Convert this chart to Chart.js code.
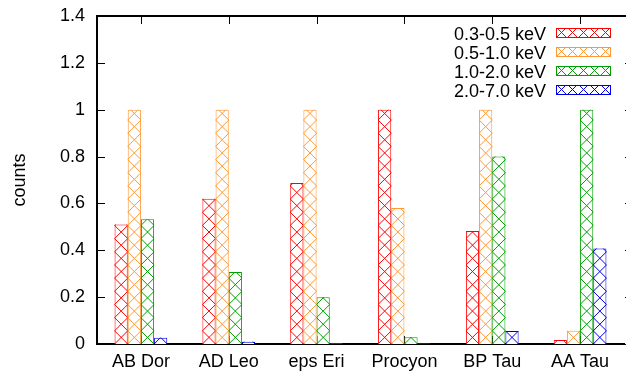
<!DOCTYPE html>
<html>
<head>
<meta charset="utf-8">
<script src="https://cdn.jsdelivr.net/npm/chart.js@4.4.1/dist/chart.umd.min.js"></script>
<style>
html, body { margin: 0; padding: 0; background: #fff; }
</style>
</head>
<body>
<canvas id="chart" width="626" height="374"></canvas>
<script>
const stars = ['AB Dor', 'AD Leo', 'eps Eri', 'Procyon', 'BP Tau', 'AA Tau'];
const bandLabels = ['0.3-0.5 keV', '0.5-1.0 keV', '1.0-2.0 keV', '2.0-7.0 keV'];
const soft = [0.51, 0.62, 0.687, 1.0, 0.482, 0.017];
const medium = [1.0, 1.0, 1.0, 0.58, 1.0, 0.057];
const hard = [0.533, 0.307, 0.2, 0.029, 0.8, 1.0];
const veryHard = [0.027, 0.01, 0.003, 0.002, 0.055, 0.408];
const yTicks = [0, 0.2, 0.4, 0.6, 0.8, 1, 1.2, 1.4];
const bandColors = ['#ff0000', '#ff9933', '#00a000', '#0000e0'];

const FONT = '"Liberation Sans", Arial, sans-serif';

// crosshatch inside a rectangle, lines at +-45 deg anchored at bottom left
function hatchRect(ctx, x0, y0, w, h, p, color) {
  if (h <= 0 || w <= 0) return;
  ctx.save();
  ctx.beginPath();
  ctx.rect(x0, y0, w, h);
  ctx.clip();
  ctx.strokeStyle = color;
  ctx.lineWidth = 1;
  ctx.beginPath();
  const yb = y0 + h;
  const n = Math.ceil((w + h) / p) + 1;
  for (let k = -n; k <= n; k++) {
    const c = x0 + k * p;
    ctx.moveTo(c, yb);
    ctx.lineTo(c + w + h, yb - w - h);
    ctx.moveTo(c, yb);
    ctx.lineTo(c - w - h, yb - w - h);
  }
  ctx.stroke();
  ctx.restore();
}

const hatchPlugin = {
  id: 'hatch',
  beforeDatasetsDraw(chart) {
    // bottom ticks (mostly hidden by bars)
    const ctx = chart.ctx, area = chart.chartArea, xs = chart.scales.x;
    ctx.save();
    ctx.strokeStyle = '#000';
    ctx.lineWidth = 1;
    ctx.beginPath();
    stars.forEach((s, i) => {
      const x = Math.round(xs.getPixelForValue(i)) + 0.5;
      ctx.moveTo(x, area.bottom);
      ctx.lineTo(x, area.bottom - 8);
    });
    ctx.stroke();
    ctx.restore();
  },
  afterDatasetsDraw(chart) {
    const ctx = chart.ctx;
    chart.data.datasets.forEach((ds, i) => {
      chart.getDatasetMeta(i).data.forEach(bar => {
        const p = bar.getProps(['x', 'y', 'base', 'width'], true);
        const x0 = p.x - p.width / 2;
        hatchRect(ctx, x0, p.y, p.width, p.base - p.y, p.width, ds.borderColor);
      });
    });

    // frame: top border, top ticks, inner y ticks
    const area = chart.chartArea, xs = chart.scales.x, ys = chart.scales.y;
    ctx.save();
    ctx.strokeStyle = '#000';
    ctx.lineWidth = 2;
    ctx.beginPath();
    ctx.moveTo(area.left, area.top);
    ctx.lineTo(chart.width, area.top);
    ctx.stroke();
    ctx.lineWidth = 1;
    ctx.beginPath();
    stars.forEach((s, i) => {
      const x = Math.round(xs.getPixelForValue(i)) + 0.5;
      ctx.moveTo(x, area.top);
      ctx.lineTo(x, area.top + 8);
    });
    yTicks.forEach(v => {
      const y = Math.round(ys.getPixelForValue(v)) + 0.5;
      ctx.moveTo(area.left, y);
      ctx.lineTo(area.left + 8, y);
      ctx.moveTo(chart.width - 1, y);
      ctx.lineTo(chart.width + 8, y);
    });
    ctx.stroke();
    ctx.restore();
  },
  afterDraw(chart) {
    // key in the upper right
    const ctx = chart.ctx;
    ctx.save();
    ctx.font = '18px ' + FONT;
    ctx.textAlign = 'right';
    ctx.textBaseline = 'alphabetic';
    chart.data.datasets.forEach((ds, i) => {
      const yc = 33 + i * 19;
      ctx.fillStyle = '#000';
      ctx.fillText(ds.label, 546, yc + 6.5);
      ctx.fillStyle = '#fff';
      ctx.fillRect(556, yc - 5, 55, 10);
      hatchRect(ctx, 556, yc - 5, 55, 10, 11, ds.borderColor);
      ctx.strokeStyle = ds.borderColor;
      ctx.lineWidth = 1;
      ctx.strokeRect(556.5, yc - 4.5, 54, 9);
    });
    ctx.restore();
  }
};

const series = [soft, medium, hard, veryHard];

new Chart(document.getElementById('chart'), {
  type: 'bar',
  data: {
    labels: stars,
    datasets: series.map((vals, i) => ({
      label: bandLabels[i],
      data: vals,
      backgroundColor: '#fff',
      borderColor: bandColors[i],
      borderWidth: 1,
      categoryPercentage: 0.6,
      barPercentage: 1.0
    }))
  },
  options: {
    responsive: false,
    animation: false,
    layout: { padding: { left: 9, top: 16, right: 2, bottom: 2 } },
    plugins: {
      legend: { display: false },
      tooltip: { enabled: false }
    },
    scales: {
      x: {
        grid: { display: false, drawTicks: false },
        border: { display: true, color: '#000', width: 2 },
        ticks: { color: '#000', font: { size: 18, family: FONT }, padding: 7, maxRotation: 0, autoSkip: false },
        afterFit: s => { s.height = 28; }
      },
      y: {
        min: 0,
        max: 1.4,
        grid: { display: false, drawTicks: false },
        border: { display: true, color: '#000', width: 2 },
        ticks: {
          stepSize: 0.2,
          color: '#000',
          font: { size: 18, family: FONT },
          padding: 12,
          callback: v => String(Math.round(v * 10) / 10)
        },
        title: {
          display: true,
          text: 'counts',
          color: '#000',
          font: { size: 18, family: FONT },
          padding: { top: 0, bottom: 29 }
        },
        afterFit: s => {
          s.width = 88;
          s.paddingTop = 0;
          s.paddingBottom = 0;
        }
      }
    }
  },
  plugins: [hatchPlugin]
});
</script>
</body>
</html>
